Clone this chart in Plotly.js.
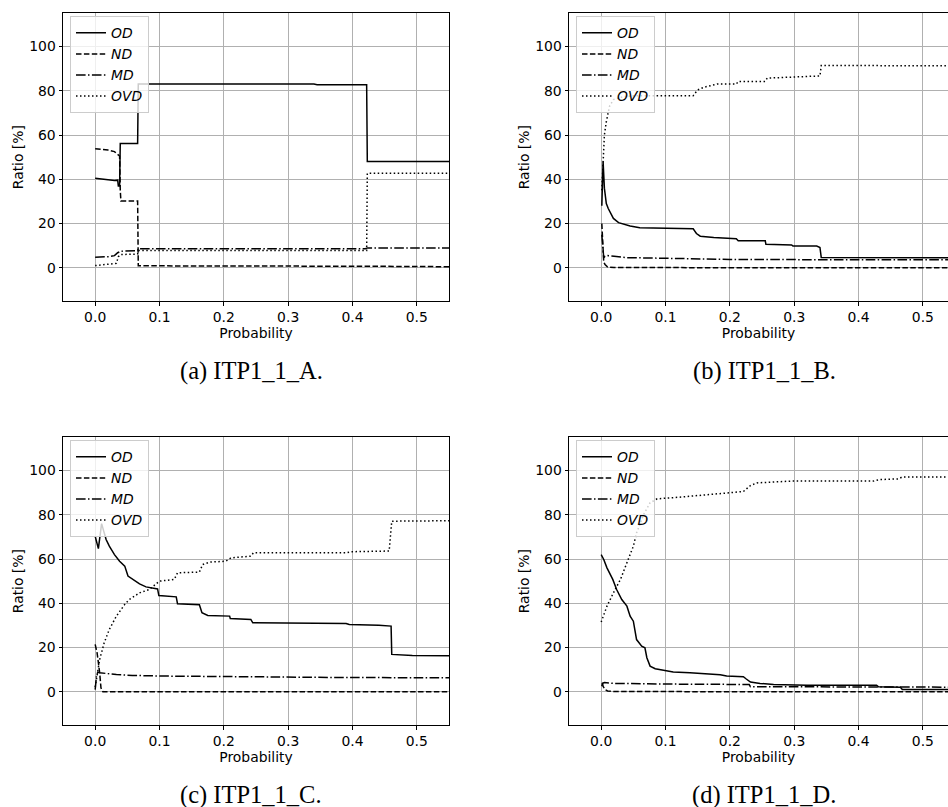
<!DOCTYPE html>
<html>
<head>
<meta charset="utf-8">
<script src="https://cdn.plot.ly/plotly-3.0.1.min.js"></script>
<style>html,body{margin:0;padding:0;background:#fff;}#chart{width:948px;height:807px;}</style>
</head>
<body>
<div id="chart"></div>
<script>
// ---------- data ----------
const seriesNames = ['OD', 'ND', 'MD', 'OVD'];
const xTicks = [0, 0.1, 0.2, 0.3, 0.4, 0.5];
const xTickText = ['0.0', '0.1', '0.2', '0.3', '0.4', '0.5'];
const yTicks = [0, 20, 40, 60, 80, 100];
const captions = ['(a) ITP1_1_A.', '(b) ITP1_1_B.', '(c) ITP1_1_C.', '(d) ITP1_1_D.'];

// panel (a)
const a_OD_x = [0, 0.01, 0.02, 0.03, 0.035, 0.036, 0.038, 0.039, 0.066, 0.067, 0.34, 0.345, 0.422, 0.423, 0.55];
const a_OD_y = [40.5, 40.2, 39.8, 39.4, 39.6, 37, 37, 56.2, 56.2, 83, 83, 82.7, 82.7, 48, 48];
const a_ND_x = [0, 0.01, 0.02, 0.03, 0.035, 0.038, 0.039, 0.040, 0.066, 0.067, 0.42, 0.55];
const a_ND_y = [53.8, 53.6, 53.2, 52.5, 51.5, 50.5, 35, 30.2, 30.2, 0.9, 0.7, 0.5];
const a_MD_x = [0, 0.02, 0.03, 0.035, 0.04, 0.066, 0.067, 0.42, 0.423, 0.55];
const a_MD_y = [4.8, 5.0, 5.5, 6.8, 7.5, 7.8, 8.6, 8.6, 9.0, 9.0];
const a_OVD_x = [0, 0.02, 0.033, 0.036, 0.04, 0.066, 0.067, 0.422, 0.423, 0.55];
const a_OVD_y = [1.0, 1.5, 2.0, 5.0, 6.0, 6.2, 7.8, 7.8, 42.7, 42.7];

// panel (b)
const b_OD_x = [0.001, 0.002, 0.003, 0.005, 0.008, 0.011, 0.019, 0.027, 0.045, 0.06, 0.143, 0.148, 0.154, 0.175, 0.21, 0.213, 0.255, 0.256, 0.296, 0.298, 0.335, 0.340, 0.342, 0.55];
const b_OD_y = [28, 42, 48, 36, 29, 26.8, 22.3, 20.4, 18.9, 18.1, 17.6, 15.5, 14.3, 13.7, 13.1, 12.2, 12.2, 10.6, 10.3, 9.8, 9.8, 9.2, 4.7, 4.5];
const b_ND_x = [0.001, 0.002, 0.003, 0.004, 0.006, 0.01, 0.02, 0.55];
const b_ND_y = [20, 12, 5, 2.5, 1.5, 0.4, 0.1, 0];
const b_MD_x = [0.001, 0.002, 0.003, 0.004, 0.006, 0.01, 0.02, 0.04, 0.1, 0.15, 0.2, 0.3, 0.55];
const b_MD_y = [15, 10, 5, 4.5, 5.2, 5.5, 5.2, 4.6, 4.3, 4.0, 3.8, 3.7, 3.6];
const b_OVD_x = [0.001, 0.003, 0.005, 0.008, 0.013, 0.019, 0.035, 0.05, 0.143, 0.15, 0.16, 0.18, 0.21, 0.213, 0.255, 0.258, 0.34, 0.342, 0.55];
const b_OVD_y = [35, 48, 60, 66, 73, 76, 77.4, 77.7, 77.8, 80.4, 81.6, 83, 83, 84.2, 84.2, 85.7, 86.7, 91.4, 91.3];

// panel (c)
const c_OD_x = [0, 0.005, 0.01, 0.013, 0.017, 0.022, 0.03, 0.038, 0.046, 0.051, 0.058, 0.069, 0.079, 0.09, 0.097, 0.099, 0.126, 0.128, 0.162, 0.166, 0.175, 0.209, 0.21, 0.242, 0.245, 0.39, 0.395, 0.441, 0.46, 0.461, 0.493, 0.55];
const c_OD_y = [70.3, 64.7, 76, 73, 68.8, 65.8, 62, 59, 56.8, 52.3, 50.8, 48.8, 47.4, 46.7, 46.5, 43.5, 42.9, 39.8, 39.3, 35.7, 34.5, 34.2, 33.1, 32.7, 31.2, 30.9, 30.4, 30.1, 29.7, 16.9, 16.4, 16.3];
const c_ND_x = [0, 0.003, 0.007, 0.009, 0.012, 0.55];
const c_ND_y = [21.4, 17.6, 8.6, 1.8, 0, 0];
const c_MD_x = [0, 0.002, 0.004, 0.007, 0.033, 0.058, 0.11, 0.214, 0.369, 0.55];
const c_MD_y = [1, 7, 8.9, 8.6, 7.8, 7.4, 7.1, 6.8, 6.5, 6.3];
const c_OVD_x = [0, 0.004, 0.007, 0.014, 0.022, 0.033, 0.046, 0.053, 0.069, 0.084, 0.097, 0.1, 0.123, 0.128, 0.162, 0.167, 0.178, 0.203, 0.211, 0.242, 0.246, 0.39, 0.398, 0.457, 0.461, 0.55];
const c_OVD_y = [2.1, 8.6, 14.6, 22.1, 28.2, 34.2, 39.5, 41.7, 44.7, 46.2, 49.5, 50, 50.8, 53.8, 54.1, 57.5, 58.6, 59, 60.5, 61.3, 62.8, 62.8, 63.3, 63.6, 77.1, 77.3];

// panel (d)
const d_OD_x = [0, 0.004, 0.009, 0.018, 0.024, 0.032, 0.04, 0.045, 0.05, 0.055, 0.063, 0.068, 0.071, 0.076, 0.084, 0.102, 0.112, 0.138, 0.164, 0.185, 0.195, 0.221, 0.225, 0.232, 0.247, 0.268, 0.32, 0.428, 0.431, 0.465, 0.468, 0.55];
const d_OD_y = [62, 59.8, 56, 50.8, 46.2, 41.7, 38.7, 34.2, 31.9, 23.6, 20.6, 19.9, 15.4, 11.6, 10.4, 9.3, 8.9, 8.6, 8.1, 7.7, 7.1, 6.8, 5.9, 4.4, 3.8, 3.3, 3.0, 3.0, 2.3, 2.1, 1.0, 1.0];
const d_ND_x = [0.002, 0.003, 0.006, 0.01, 0.02, 0.55];
const d_ND_y = [4, 2.5, 1, 0.4, 0.1, 0];
const d_MD_x = [0.001, 0.002, 0.005, 0.02, 0.1, 0.23, 0.232, 0.43, 0.468, 0.55];
const d_MD_y = [2.5, 3.8, 4.2, 3.8, 3.5, 3.3, 2.3, 2.3, 2.1, 2.1];
const d_OVD_x = [0, 0.009, 0.019, 0.03, 0.04, 0.05, 0.055, 0.066, 0.076, 0.087, 0.112, 0.138, 0.164, 0.19, 0.2, 0.221, 0.232, 0.242, 0.294, 0.423, 0.433, 0.462, 0.468, 0.55];
const d_OVD_y = [31.5, 38.7, 44.7, 50.8, 58.3, 65.8, 71.8, 80.1, 85.4, 87.2, 87.7, 88.4, 88.9, 89.6, 90.2, 90.5, 93.2, 94.4, 95.2, 95.2, 95.9, 96.2, 97.1, 97.1];

const panels = [
  [[a_OD_x, a_OD_y], [a_ND_x, a_ND_y], [a_MD_x, a_MD_y], [a_OVD_x, a_OVD_y]],
  [[b_OD_x, b_OD_y], [b_ND_x, b_ND_y], [b_MD_x, b_MD_y], [b_OVD_x, b_OVD_y]],
  [[c_OD_x, c_OD_y], [c_ND_x, c_ND_y], [c_MD_x, c_MD_y], [c_OVD_x, c_OVD_y]],
  [[d_OD_x, d_OD_y], [d_ND_x, d_ND_y], [d_MD_x, d_MD_y], [d_OVD_x, d_OVD_y]]
];

// ---------- style / layout ----------
const W = 948, H = 807;
const FONT = 'DejaVu Sans, sans-serif';
const FS = 13.9;
const dashes = ['solid', '5.5px,2.4px', '9.6px,2.4px,1.5px,2.4px', '1.5px,2.5px'];
// pixel boxes of plot areas: [left, right, top, bottom]
const boxes = [
  [63, 449, 13.3, 301],
  [569, 948, 13.3, 301],
  [63, 449, 437.3, 725],
  [569, 948, 437.3, 725]
];
const xRanges = [[-0.05, 0.55], [-0.05, 0.539], [-0.05, 0.55], [-0.05, 0.539]];
const capPos = [[251, 371], [764, 371], [251, 795], [764, 795]];

const traces = [];
const layout = {
  width: W, height: H,
  margin: {l: 0, r: 0, t: 0, b: 0},
  paper_bgcolor: '#fff', plot_bgcolor: '#fff',
  font: {family: FONT, size: FS, color: '#000'},
  showlegend: true,
  annotations: []
};

panels.forEach((p, i) => {
  const n = i + 1;
  const xa = n === 1 ? 'x' : 'x' + n;
  const ya = n === 1 ? 'y' : 'y' + n;
  const lg = n === 1 ? 'legend' : 'legend' + n;
  const [l, r, t, b] = boxes[i];
  p.forEach((s, k) => {
    traces.push({
      type: 'scatter', mode: 'lines',
      x: s[0], y: s[1],
      xaxis: xa, yaxis: ya,
      name: seriesNames[k],
      legend: lg,
      line: {color: '#000', width: 1.5, dash: dashes[k]},
      hoverinfo: 'skip'
    });
  });
  layout[n === 1 ? 'xaxis' : 'xaxis' + n] = {
    domain: [l / W, r / W],
    anchor: ya,
    range: xRanges[i],
    tickvals: xTicks, ticktext: xTickText,
    showgrid: true, gridcolor: '#b0b0b0', gridwidth: 1,
    zeroline: false,
    showline: true, linecolor: '#000', linewidth: 1, mirror: true,
    ticks: 'outside', ticklen: 3.5, tickwidth: 1, tickcolor: '#000',
    tickfont: {family: FONT, size: FS, color: '#000'},
    title: {text: 'Probability', font: {family: FONT, size: FS, color: '#000'}, standoff: 4},
    automargin: false, fixedrange: true
  };
  layout[n === 1 ? 'yaxis' : 'yaxis' + n] = {
    domain: [1 - b / H, 1 - t / H],
    anchor: xa,
    range: [-15, 115],
    tickvals: yTicks,
    showgrid: true, gridcolor: '#b0b0b0', gridwidth: 1,
    zeroline: false,
    showline: true, linecolor: '#000', linewidth: 1, mirror: (i % 2 === 0),
    ticks: 'outside', ticklen: 3.5, tickwidth: 1, tickcolor: '#000',
    tickfont: {family: FONT, size: FS, color: '#000'},
    title: {text: 'Ratio [%]', font: {family: FONT, size: FS, color: '#000'}, standoff: 2},
    automargin: false, fixedrange: true
  };
  layout[lg] = {
    x: (l + 7) / W, y: 1 - (t + 3) / H,
    xanchor: 'left', yanchor: 'top',
    bgcolor: 'rgba(255,255,255,0.8)', bordercolor: '#cccccc', borderwidth: 1,
    font: {family: FONT, size: FS, color: '#000', style: 'italic'},
    itemwidth: 30, tracegroupgap: 0
  };
  layout.annotations.push({
    text: captions[i], xref: 'paper', yref: 'paper',
    x: capPos[i][0] / W, y: 1 - capPos[i][1] / H,
    xanchor: 'center', yanchor: 'middle', showarrow: false,
    font: {family: 'Liberation Serif, Times New Roman, serif', size: 24.5, color: '#000'}
  });
});

Plotly.newPlot('chart', traces, layout, {displayModeBar: false, staticPlot: true});
</script>
</body>
</html>
